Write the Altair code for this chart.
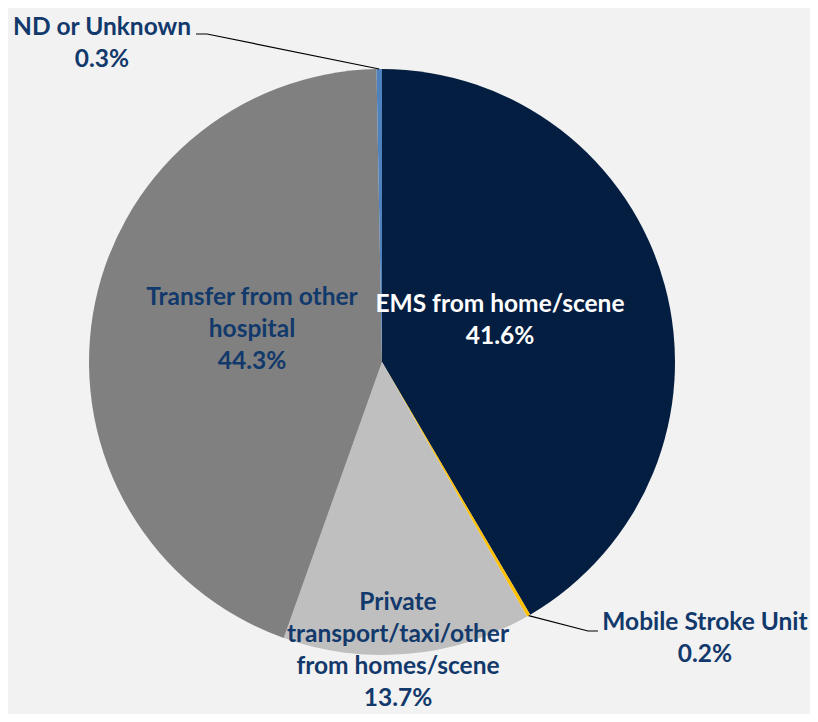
import math
import altair as alt
import pandas as pd

# ---- data ----
categories = ["EMS from home/scene", "Mobile Stroke Unit",
              "Private transport/taxi/other from homes/scene",
              "Transfer from other hospital", "ND or Unknown"]
values = [41.6, 0.2, 13.7, 44.3, 0.3]
label_texts = ["EMS from home/scene\n41.6%", "Mobile Stroke Unit\n0.2%",
               "Private\ntransport/taxi/other\nfrom homes/scene\n13.7%",
               "Transfer from other\nhospital\n44.3%", "ND or Unknown\n0.3%"]
colors = ["#041E42", "#FFC000", "#BFBFBF", "#808080", "#4F81BD"]
label_colors = ["#FFFFFF", "#12396B", "#12396B", "#12396B", "#12396B"]

# ---- layout ----
W, H = 802, 706
CX, CY, R = 374, 354, 293
# centre of the first line of each label
label_pos = [(492, 297), (697, 615), (390, 595), (244, 290), (94, 20)]
# leader line bends/ends for outside labels: (index, [(x, y), ...])
leader_pts = {1: [(580, 623), (590, 623)], 4: [(199, 26), (188, 26)]}

df = pd.DataFrame({"cat": categories, "value": values, "ord": list(range(len(values)))})

total = sum(values)
cum = 0
mids = []
for v in values:
    mids.append((cum + v / 2) / total * 2 * math.pi)
    cum += v

lab = pd.DataFrame({
    "text": label_texts,
    "lx": [p[0] for p in label_pos],
    "ly": [p[1] for p in label_pos],
    "tc": label_colors,
})

rows = []
for i, pts in leader_pts.items():
    a = mids[i]
    ex, ey = CX + R * math.sin(a), CY - R * math.cos(a)
    rows.append({"g": i, "k": 0, "x": ex, "y": ey})
    for k, (px, py) in enumerate(pts, start=1):
        rows.append({"g": i, "k": k, "x": px, "y": py})
lead = pd.DataFrame(rows)

pie = alt.Chart(df).mark_arc(radius=R).encode(
    theta=alt.Theta("value:Q", stack=True),
    order=alt.Order("ord:Q"),
    color=alt.Color("cat:N", scale=alt.Scale(domain=categories, range=colors), legend=None),
    x=alt.value(CX),
    y=alt.value(CY),
)

lines = alt.Chart(lead).mark_line(color="#000000", strokeWidth=1.2).encode(
    x=alt.X("x:Q", scale=None),
    y=alt.Y("y:Q", scale=None),
    detail="g:N",
    order="k:Q",
)

texts = alt.Chart(lab).mark_text(
    font="Lato", fontWeight="bold", fontSize=24.5, lineBreak="\n", lineHeight=32,
    align="center", baseline="middle",
).encode(
    x=alt.X("lx:Q", scale=None),
    y=alt.Y("ly:Q", scale=None),
    text="text:N",
    color=alt.Color("tc:N", scale=None),
)

chart = alt.layer(pie, lines, texts).properties(
    width=W, height=H, autosize=alt.AutoSizeParams(type="none"), padding=0,
    background="#F2F2F2",
).configure_view(stroke=None)

chart.save("out.html", embed_options={"renderer": "svg", "actions": False})
